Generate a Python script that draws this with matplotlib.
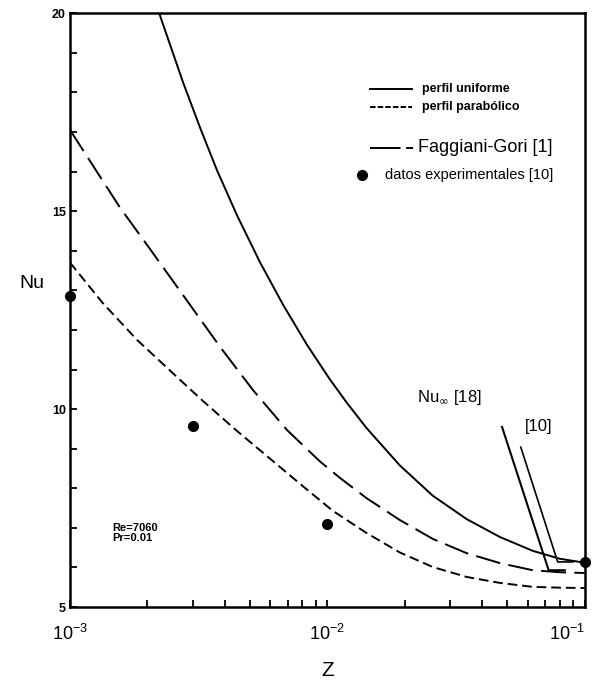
import matplotlib
matplotlib.use("Agg")
import matplotlib.pyplot as plt
from matplotlib.ticker import FixedLocator, NullFormatter, LogLocator

plt.rcParams['font.family'] = ['Liberation Sans', 'DejaVu Sans']
plt.rcParams['lines.scale_dashes'] = False

# perfil uniforme (solid)
z_unif = [0.00222, 0.00275, 0.0032, 0.00372, 0.00445, 0.00547, 0.00672,
          0.00832, 0.0102, 0.0119, 0.0142, 0.0191, 0.0257, 0.0348, 0.0468,
          0.0628, 0.080, 0.1]
nu_unif = [20.0, 18.25, 17.11, 16.04, 14.9, 13.71, 12.64,
           11.63, 10.76, 10.16, 9.52, 8.58, 7.81, 7.22, 6.77,
           6.42, 6.22, 6.12]

# perfil parabolico (short dash)
z_parab = [0.001, 0.00134, 0.00182, 0.00244, 0.00329, 0.00445, 0.00598,
           0.00804, 0.0105, 0.0142, 0.0191, 0.0257, 0.0348, 0.0468,
           0.0628, 0.080, 0.1]
nu_parab = [13.7, 12.68, 11.75, 10.98, 10.2, 9.45, 8.75,
            8.05, 7.43, 6.87, 6.38, 6.01, 5.76, 5.61,
            5.51, 5.49, 5.48]

# Faggiani-Gori [1] (long dash)
z_fg = [0.001, 0.00156, 0.0021, 0.00284, 0.00383, 0.00514, 0.00697,
        0.00935, 0.0112, 0.0142, 0.0191, 0.0257, 0.0348, 0.0468,
        0.0628, 0.080, 0.1]
nu_fg = [17.05, 15.10, 13.94, 12.75, 11.57, 10.48, 9.47,
         8.68, 8.26, 7.75, 7.2, 6.72, 6.36, 6.11,
         5.93, 5.88, 5.86]

# datos experimentales [10]
z_exp = [0.001, 0.003, 0.01, 0.1]
nu_exp = [12.85, 9.57, 7.1, 6.14]

# leader lines for Nu_inf labels
lead18_z = [0.0477, 0.0724, 0.0836]
lead18_nu = [9.55, 5.93, 5.93]
lead10_z = [0.0564, 0.0785, 0.09]
lead10_nu = [9.04, 6.14, 6.14]

fig = plt.figure(figsize=(6.01, 6.93), dpi=100)
ax = fig.add_axes([0.1165, 0.124, 0.8565, 0.857])

lw = 1.4
ax.plot(z_unif, nu_unif, color='black', lw=lw)
ax.plot(z_parab, nu_parab, color='black', lw=lw, dashes=(7, 3.5))
ax.plot(z_fg, nu_fg, color='black', lw=lw, dashes=(18, 6))
ax.plot(z_exp, nu_exp, 'o', color='black', ms=7, clip_on=False, zorder=5)

ax.plot(lead18_z, lead18_nu, color='black', lw=1.5)
ax.plot(lead10_z, lead10_nu, color='black', lw=1.2)
ax.text(0.0223, 10.3, r'Nu$_{\infty}$ [18]', fontsize=12, va='center')
ax.text(0.0585, 9.55, '[10]', fontsize=12, va='center')

ax.set_xscale('log')
ax.set_xlim(1e-3, 1e-1)
ax.set_ylim(5, 20)

ax.set_xticks([1e-3, 1e-2, 1e-1])
ax.set_xticklabels([r'$\mathregular{10^{-3}}$', r'$\mathregular{10^{-2}}$',
                    r'$\mathregular{10^{-1}}$'], fontsize=13)
ax.get_xticklabels()[2].set_ha('right')
ax.xaxis.set_minor_locator(LogLocator(base=10, subs=range(2, 10)))
ax.xaxis.set_minor_formatter(NullFormatter())
ax.set_yticks([5, 10, 15, 20])
ax.set_yticklabels(['5', '10', '15', '20'], fontsize=9, fontweight='bold')
ax.yaxis.set_minor_locator(FixedLocator(range(5, 21)))

ax.tick_params(which='both', direction='in', top=False, right=False, width=1.3)
ax.tick_params(which='major', axis='x', length=5, pad=12)
ax.tick_params(which='minor', length=5)
ax.tick_params(which='major', axis='y', length=5, pad=3)
for s in ax.spines.values():
    s.set_linewidth(1.8)

ax.set_xlabel('Z', fontsize=15, labelpad=12)
ax.set_ylabel('Nu', fontsize=14, rotation=0, va='center')
ax.yaxis.set_label_coords(-0.075, 0.545)

# hand-made legend
t = ax.transAxes
ax.plot([0.583, 0.664], [0.872, 0.872], color='black', lw=lw, transform=t)
ax.text(0.683, 0.872, 'perfil uniforme', transform=t, fontsize=9,
        fontweight='bold', va='center')
ax.plot([0.583, 0.664], [0.842, 0.842], color='black', lw=lw,
        dashes=(4, 1.5), transform=t)
ax.text(0.683, 0.842, 'perfil parabólico', transform=t, fontsize=9,
        fontweight='bold', va='center')
ax.plot([0.583, 0.676], [0.773, 0.773], color='black', lw=lw,
        dashes=(22, 4, 5, 100), transform=t)
ax.text(0.676, 0.773, 'Faggiani-Gori [1]', transform=t, fontsize=13,
        va='center')
ax.plot([0.567], [0.727], 'o', color='black', ms=7, transform=t)
ax.text(0.612, 0.727, 'datos experimentales [10]', transform=t,
        fontsize=10.5, va='center')
ax.text(0.082, 0.125, 'Re=7060\nPr=0.01', transform=t, fontsize=8,
        fontweight='bold', va='center', linespacing=0.95)

fig.savefig('out.png', dpi=100)
